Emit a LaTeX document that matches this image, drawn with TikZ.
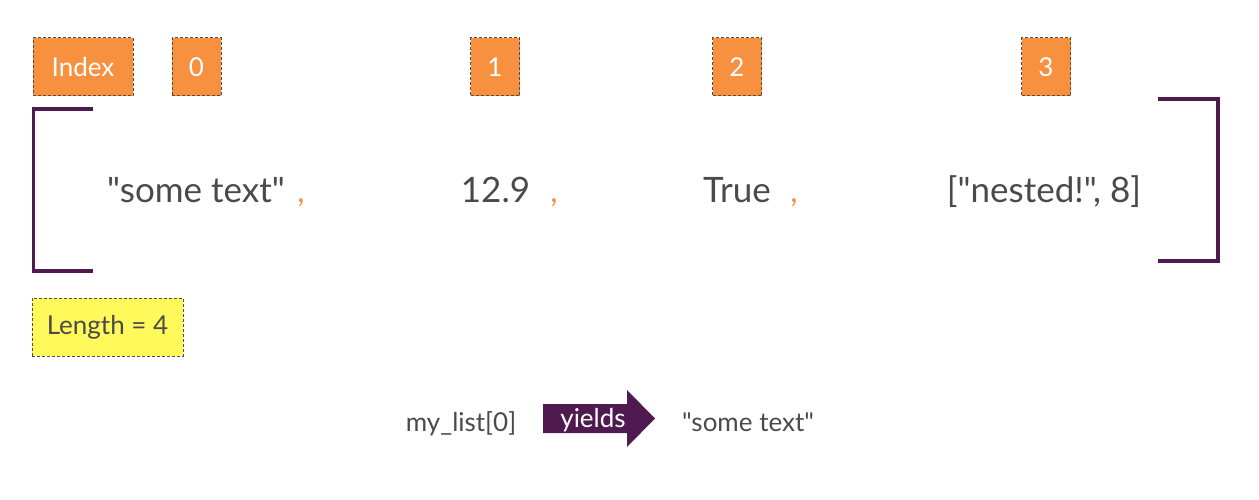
\documentclass[tikz,border=0pt]{standalone}
\usepackage{fontspec}
\setmainfont{Lato}[Ligatures=TeXOff]
\newcommand\dq{"}
\definecolor{txt}{HTML}{4A4A4A}
\definecolor{org}{HTML}{F7913F}
\definecolor{plum}{HTML}{4E1A4F}
\definecolor{yel}{HTML}{FFF95B}
\definecolor{dsh}{HTML}{5A4A3A}
\tikzset{
  idxbox/.style={fill=org, draw=dsh, dashed, dash pattern=on 3pt off 2pt, line width=1pt,
    text=white, font=\fontsize{26}{30}\selectfont, inner sep=0pt},
  lenbox/.style={fill=yel, draw=dsh, dashed, dash pattern=on 3pt off 2pt, line width=1pt,
    text=txt, font=\fontsize{26}{30}\selectfont, inner sep=0pt},
  val/.style={text=txt, font=\fontsize{35}{40}\selectfont, anchor=base, inner sep=0pt},
  comma/.style={text=org, font=\fontsize{32}{36}\selectfont, anchor=base, inner sep=0pt},
  small/.style={text=txt, font=\fontsize{26}{30}\selectfont, anchor=base, inner sep=0pt},
  brk/.style={draw=plum, line width=3.5pt}
}
\begin{document}
\begin{tikzpicture}[x=1pt,y=-1pt]
\useasboundingbox (0,0) rectangle (1259,500);
% index boxes
\node[idxbox, minimum width=100pt, minimum height=58pt] (ix) at (83,67) {Index};
\node[idxbox, minimum width=49pt, minimum height=58pt] (i0) at (196.5,67) {0};
\node[idxbox, minimum width=49pt, minimum height=58pt] (i1) at (495,67) {1};
\node[idxbox, minimum width=49pt, minimum height=58pt] (i2) at (737,67) {2};
\node[idxbox, minimum width=49pt, minimum height=58pt] (i3) at (1046,67) {3};
% brackets
\draw[brk] (93,109) -- (33.5,109) -- (33.5,271) -- (93,271);
\draw[brk] (1158,99) -- (1218,99) -- (1218,261) -- (1158,261);
% values
\node[val] (v0) at (196,203) {\dq some text\dq};
\node[comma] (c0) at (301,203) {,};
\node[val] (v1) at (495.5,203) {12.9};
\node[comma] (c1) at (554,203) {,};
\node[val] (v2) at (737,203) {True};
\node[comma] (c2) at (794,203) {,};
\node[val] (v3) at (1044,203) {[\dq nested!\dq, 8]};
% length
\node[lenbox, minimum width=151pt, minimum height=58pt] (len) at (107.5,327) {Length = 4};
% bottom row
\node[small] (ml) at (461,431) {my\_list[0]};
\fill[plum] (543,404) -- (627,404) -- (627,390) -- (655,418.5) -- (627,447) -- (627,433) -- (543,433) -- cycle;
\node[text=white, font=\fontsize{26}{30}\selectfont, anchor=base, inner sep=0pt] (yl) at (593,427) {yields};
\node[small] (st) at (748,431) {\dq some text\dq};
\end{tikzpicture}
\end{document}
